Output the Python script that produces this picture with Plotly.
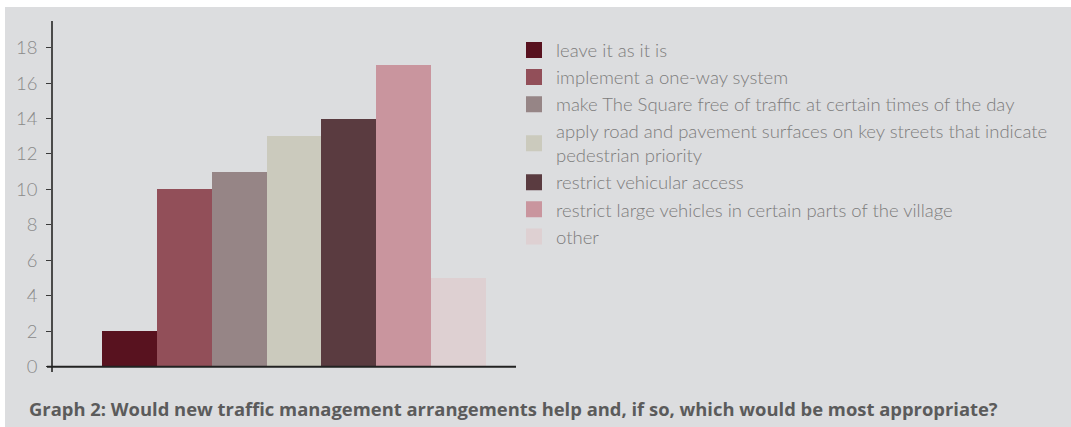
import plotly.graph_objects as go

categories = [
    "leave it as it is",
    "implement a one-way system",
    "make The Square free of traffic at certain times of the day",
    "apply road and pavement surfaces on key streets that indicate<br>pedestrian priority",
    "restrict vehicular access",
    "restrict large vehicles in certain parts of the village",
    "other",
]
values = [2, 10, 11, 13, 14, 17, 5]
colors = ["#58121f", "#924f59", "#968586", "#cbcabd", "#5a3b40", "#c9959e", "#ded0d2"]
y_ticks = [0, 2, 4, 6, 8, 10, 12, 14, 16, 18]
title_text = "Graph 2: Would new traffic management arrangements help and, if so, which would be most appropriate?"

W, H = 1071, 427
L, R, T, B = 53, 555, 21, 55
pw, ph = W - L - R, H - T - B

def px_x(p):
    return (p - L) / pw

def px_y(p):
    return (H - B - p) / ph

BG = "#dcdddf"
FONT = "Lato"

fig = go.Figure()
for i, (c, v, col) in enumerate(zip(categories, values, colors)):
    fig.add_trace(go.Bar(x=[i], y=[v], width=1, marker=dict(color=col, line=dict(width=0)),
                         showlegend=False, name=c))
for c, col in zip(categories, colors):
    fig.add_trace(go.Scatter(x=[-50], y=[-50], mode="markers", name=c, hoverinfo="skip",
                             marker=dict(symbol="square", size=16, color=col)))

fig.update_layout(
    width=W, height=H,
    margin=dict(l=L, r=R, t=T, b=B),
    paper_bgcolor="white",
    plot_bgcolor=BG,
    barmode="overlay",
    bargap=0,
    showlegend=True,
    legend=dict(
        x=px_x(512), y=px_y(31.5), xanchor="left", yanchor="top",
        font=dict(family=FONT, size=18.5, color="#7c7c7c", weight=300),
        bgcolor="rgba(0,0,0,0)", traceorder="normal", itemwidth=34,
    ),
    xaxis=dict(type="linear", range=[-1.4, 7.05], showline=False, showticklabels=False, ticks="",
               showgrid=False, zeroline=False, fixedrange=True),
    yaxis=dict(type="linear", range=[-0.3, 19.5], tickvals=y_ticks, showline=True, linecolor="#4a4a4a",
               linewidth=1.5, ticks="outside", ticklen=5, tickcolor="#3a3a3a", tickwidth=1.2,
               showgrid=False, zeroline=False, ticklabelstandoff=5,
               tickfont=dict(family=FONT, size=18.5, color="#8a8a8a", weight=300)),
    shapes=[
        dict(type="rect", xref="paper", yref="paper", x0=px_x(5), x1=px_x(W + 5),
             y0=px_y(H + 5), y1=px_y(7), fillcolor=BG, line=dict(width=0), layer="below"),
        dict(type="line", xref="paper", yref="y", x0=px_x(47), x1=1.0, y0=0, y1=0,
             line=dict(color="#222222", width=2)),
    ],
    annotations=[
        dict(text="<b>" + title_text + "</b>", xref="paper", yref="paper",
             x=px_x(27), y=px_y(408), xanchor="left", yanchor="middle", showarrow=False,
             font=dict(family="Open Sans", size=18.4, color="#5b5b5b")),
    ],
)

fig.write_html("out.html")
